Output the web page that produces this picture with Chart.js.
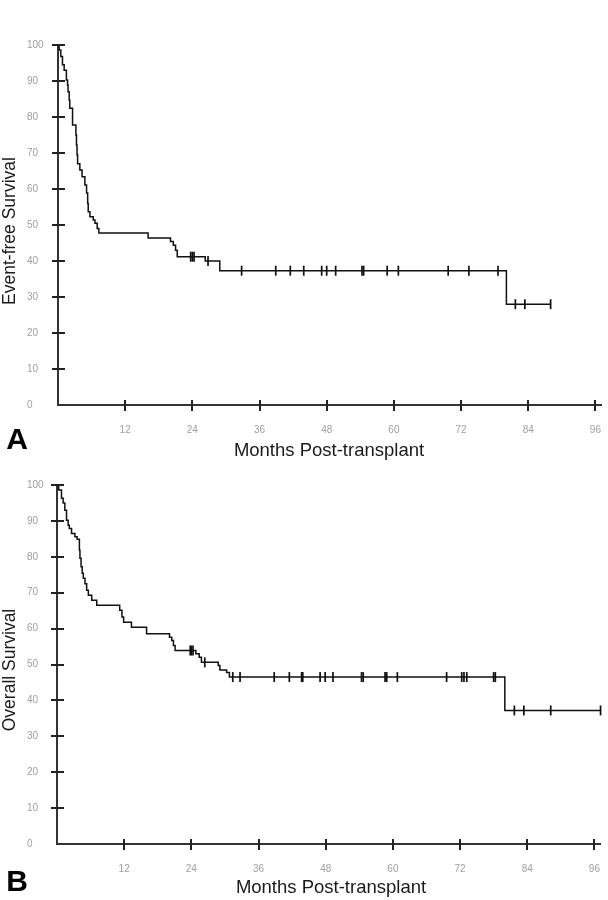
<!DOCTYPE html>
<html>
<head>
<meta charset="utf-8">
<script src="https://cdn.jsdelivr.net/npm/chart.js@4.4.1/dist/chart.umd.min.js"></script>
<style>
body { margin:0; background:#fff; width:608px; height:900px; position:relative; overflow:hidden; font-family:"Liberation Sans", Arial, sans-serif; }
.panel { position:absolute; left:0; width:608px; height:450px; }
.lbl { position:absolute; color:#1a1a1a; font-size:18.5px; white-space:nowrap; transform:translate(-50%,-50%); }
.ylbl { font-size:17.5px; transform:translate(-50%,-50%) rotate(-90deg); }
.letter { position:absolute; font-weight:bold; font-size:30px; color:#000; transform:translate(-50%,-50%); }
</style>
</head>
<body>
<div class="panel" style="top:0"><canvas id="efsChart" width="608" height="450"></canvas></div>
<div class="panel" style="top:450px"><canvas id="osChart" width="608" height="450"></canvas></div>

<div class="lbl ylbl" style="left:9px; top:231px">Event-free Survival</div>
<div class="lbl" style="left:329px; top:450px">Months Post-transplant</div>
<div class="letter" style="left:17px; top:439px">A</div>

<div class="lbl ylbl" style="left:9px; top:670px">Overall Survival</div>
<div class="lbl" style="left:331px; top:887px">Months Post-transplant</div>
<div class="letter" style="left:17px; top:881px">B</div>

<script>
const xTicks = [0, 12, 24, 36, 48, 60, 72, 84, 96];
const yTicks = [0, 10, 20, 30, 40, 50, 60, 70, 80, 90, 100];

// event-free survival (panel A): drop times (months) and survival after each drop
const efsTimes = [0, 0.2, 0.5, 0.8, 1.1, 1.5, 1.7, 1.8, 2.0, 2.1, 2.6, 3.2, 3.3, 3.4, 3.5, 3.9, 4.3, 4.8, 5.1, 5.3, 5.4, 5.7, 6.3, 6.6, 7.0, 7.3, 16.1, 20.1, 20.6, 21.0, 21.3, 26.3, 28.9, 80.1, 88.0];
const efsSurv  = [100, 98.6, 96.8, 94.5, 93, 90.3, 88.9, 87, 84.7, 82.4, 77.8, 75, 72.2, 69.5, 67, 65.3, 63.4, 61.1, 58.9, 56, 53.7, 52.3, 51.4, 50.5, 49, 47.8, 46.4, 45.4, 44.4, 43, 41.2, 40.0, 37.3, 28.0, 28.0];
const efsCensored = [23.7, 24.0, 24.3, 26.8, 32.8, 38.9, 41.5, 43.9, 47.1, 48.0, 49.6, 54.3, 54.6, 58.8, 60.8, 69.7, 73.4, 78.6, 81.7, 83.4, 88.0];

// overall survival (panel B)
const osTimes = [0, 0.3, 0.8, 1.1, 1.4, 1.7, 2.0, 2.2, 2.6, 3.2, 3.6, 4.0, 4.1, 4.3, 4.5, 4.7, 5.0, 5.3, 5.6, 6.2, 7.1, 11.2, 11.6, 11.9, 13.3, 16.0, 20.1, 20.5, 20.8, 21.1, 24.8, 25.4, 25.8, 28.8, 29.1, 30.3, 30.8, 80.0, 97.1];
const osSurv  = [100, 98.6, 96.3, 95, 93, 90.2, 88.8, 87.9, 86.5, 85.6, 84.9, 81.8, 79.6, 77.2, 75.4, 74, 72.5, 70.7, 69.3, 67.9, 66.5, 65.1, 63.2, 61.8, 60.4, 58.6, 57.6, 56.7, 55.3, 53.9, 53.0, 52.0, 50.6, 49.7, 48.5, 47.8, 46.5, 37.2, 37.2];
const osCensored = [23.8, 24.0, 24.3, 26.4, 31.4, 32.7, 38.8, 41.5, 43.7, 43.9, 47.0, 47.9, 49.3, 54.4, 54.7, 58.6, 58.9, 60.8, 69.6, 72.3, 72.7, 73.2, 78.0, 78.3, 81.7, 83.4, 88.2, 97.1];

function survivalAt(times, surv, t) {
	let s = surv[0];
	for (let i = 0; i < times.length; i++) {
		if (times[i] <= t) s = surv[i];
	}
	return s;
}

// tick marks that cross the axis line
const crossTicks = {
	id: 'crossTicks',
	afterDatasetsDraw(chart) {
		const ctx = chart.ctx;
		const xs = chart.scales.x, ys = chart.scales.y;
		ctx.save();
		ctx.strokeStyle = '#222';
		ctx.lineWidth = 2;
		xs.ticks.forEach(t => {
			if (t.value === 0) return;
			const px = Math.round(xs.getPixelForValue(t.value));
			ctx.beginPath();
			ctx.moveTo(px, xs.top - 5);
			ctx.lineTo(px, xs.top + 6);
			ctx.stroke();
		});
		ys.ticks.forEach(t => {
			if (t.value === 0) return;
			const py = Math.round(ys.getPixelForValue(t.value));
			ctx.beginPath();
			ctx.moveTo(ys.right - 6, py);
			ctx.lineTo(ys.right + 7, py);
			ctx.stroke();
		});
		ctx.restore();
	}
};

function makeChart(id, times, surv, censored, padLeft, yWidth, xHeight, padTop, padRight) {
	const tickFont = { family: '"Liberation Sans Narrow", "Liberation Sans", sans-serif', size: 10 };
	return new Chart(document.getElementById(id).getContext('2d'), {
		type: 'scatter',
		data: {
			datasets: [{
				data: times.map((t, i) => ({ x: t, y: surv[i] })),
				showLine: true,
				stepped: true,
				clip: false,
				borderColor: '#111',
				borderWidth: 1.5,
				pointRadius: 0
			},
			{
				data: censored.map(t => ({ x: t, y: survivalAt(times, surv, t) })),
				clip: false,
				pointStyle: 'line',
				rotation: 90,
				radius: 5,
				borderColor: '#111',
				borderWidth: 1.7
			}]
		},
		options: {
			responsive: false,
			animation: false,
			events: [],
			layout: { padding: { top: padTop, right: padRight, left: padLeft, bottom: 0 } },
			plugins: { legend: { display: false }, tooltip: { enabled: false } },
			scales: {
				x: {
					type: 'linear',
					min: 0,
					max: 97,
					afterBuildTicks: s => { s.ticks = xTicks.map(v => ({ value: v })); },
					afterFit: s => { s.height = xHeight; },
					grid: { display: false, drawTicks: true, tickLength: 17 },
					border: { display: true, color: '#333', width: 2 },
					ticks: {
						color: '#a0a0a0',
						font: tickFont,
						padding: 2,
						maxRotation: 0,
						callback: v => v === 0 ? '' : v
					}
				},
				y: {
					type: 'linear',
					min: 0,
					max: 100,
					afterBuildTicks: s => { s.ticks = yTicks.map(v => ({ value: v })); },
					afterFit: s => { s.width = yWidth; },
					grid: { display: false },
					border: { display: true, color: '#333', width: 2 },
					ticks: { color: '#a0a0a0', font: tickFont, padding: 8, crossAlign: 'far' }
				}
			}
		},
		plugins: [crossTicks]
	});
}

makeChart('efsChart', efsTimes, efsSurv, efsCensored, 27, 31, 45, 45, 7);
makeChart('osChart', osTimes, osSurv, osCensored, 27, 30, 56, 35, 8);
</script>
</body>
</html>
